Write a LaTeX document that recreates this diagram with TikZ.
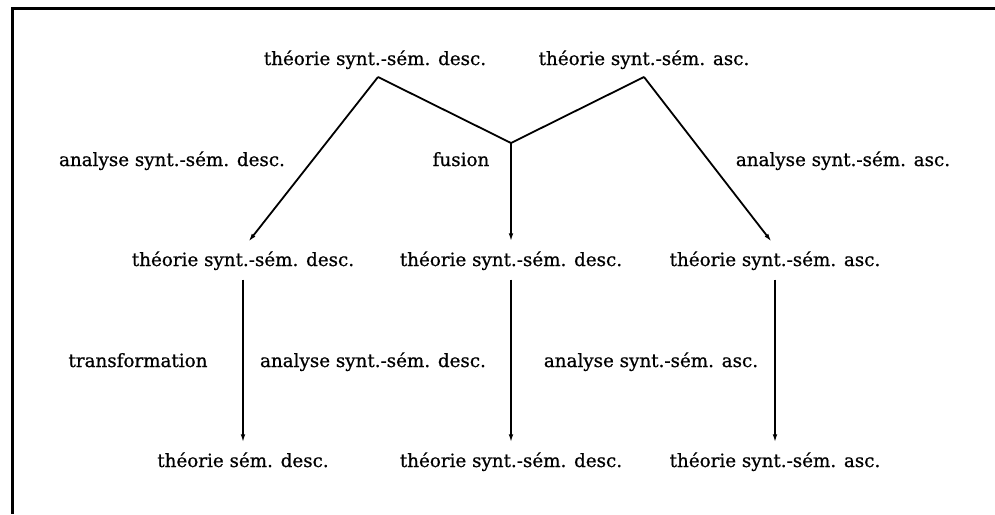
\documentclass[tikz,border=0pt]{standalone}
\usepackage{fontspec}
\setmainfont{DejaVu Serif}[FakeBold=0.7]
\usetikzlibrary{arrows.meta}
\begin{document}
\begin{tikzpicture}[x=1pt,y=-1pt,
  every node/.style={font=\fontsize{18.3}{22}\selectfont, inner xsep=0pt, inner ysep=9.5pt,
    text height=14pt, text depth=4pt},
  lbl/.style={},
  conn/.style={line width=1.8pt},
  arr/.style={line width=1.8pt, -{Latex[length=9pt,width=4.5pt]}},
  frame/.style={line width=3pt}]
\useasboundingbox (0,0) rectangle (995,514);
\draw[frame] (995,8) -- (12,8) -- (12,514);
% top row
\node (t1) at (375,60) {théorie synt.-sém. desc.};
\node (t2) at (644,60) {théorie synt.-sém. asc.};
% middle row
\node (m1) at (243,261) {théorie synt.-sém. desc.};
\node (m2) at (511,261) {théorie synt.-sém. desc.};
\node (m3) at (775,261) {théorie synt.-sém. asc.};
% bottom row
\node (b1) at (243,462) {théorie sém. desc.};
\node (b2) at (511,462) {théorie synt.-sém. desc.};
\node (b3) at (775,462) {théorie synt.-sém. asc.};
% labels
\node[lbl] (l1) at (172,161) {analyse synt.-sém. desc.};
\node[lbl] (l2) at (461,161) {fusion};
\node[lbl] (l3) at (843,161) {analyse synt.-sém. asc.};
\node[lbl] (l4) at (138,362) {transformation};
\node[lbl] (l5) at (373,362) {analyse synt.-sém. desc.};
\node[lbl] (l6) at (651,362) {analyse synt.-sém. asc.};
% branching points
\coordinate (a1) at (378,77);
\coordinate (a2) at (644,77);
\coordinate (j) at (511,143);
% connectors
\draw[arr] (a1) -- ([xshift=5pt]m1.north);
\draw[conn, line join=miter] (a1) -- (j) -- (a2);
\draw[arr] (j) -- (m2.north);
\draw[arr] (a2) -- ([xshift=-3pt]m3.north);
\draw[arr] (m1.south) -- (b1.north);
\draw[arr] (m2.south) -- (b2.north);
\draw[arr] (m3.south) -- (b3.north);
\end{tikzpicture}
\end{document}
